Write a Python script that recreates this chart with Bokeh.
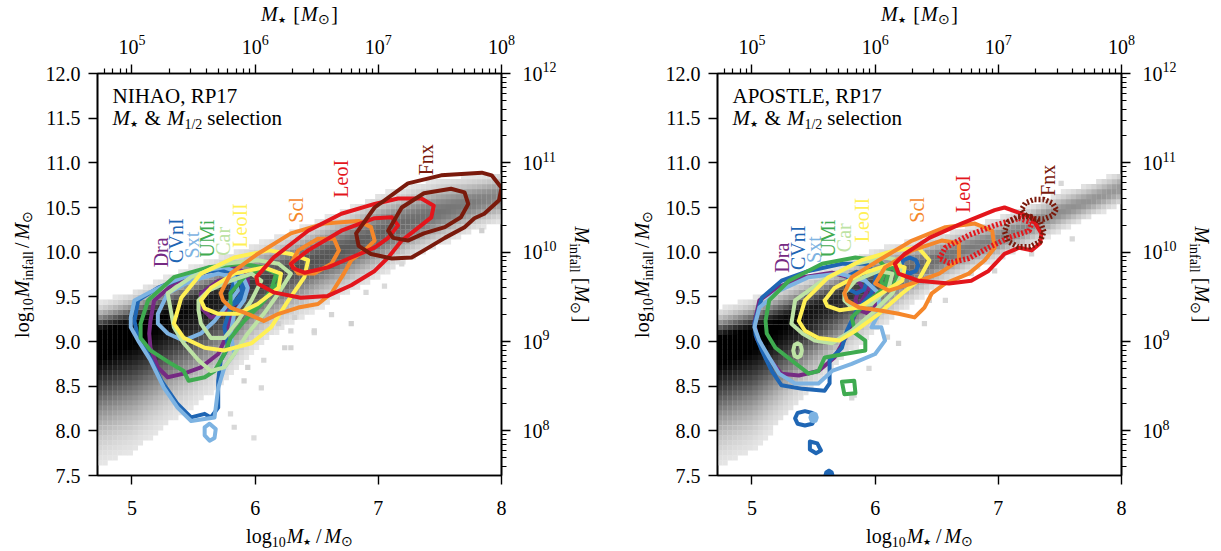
import numpy as np
from bokeh.plotting import figure
from bokeh.layouts import row, column
from bokeh.models import LinearAxis, FixedTicker, NumeralTickFormatter, Range1d
from bokeh.core.properties import value
from bokeh.embed import file_html
from bokeh.resources import INLINE

SERIF = "Liberation Serif"

# ---------------------------------------------------------------- axes
XR = (4.72, 8.0)
YR = (7.5, 12.0)
x_ticks = [5, 6, 7, 8]
x_tick_labels = {5: "5", 6: "6", 7: "7", 8: "8"}
y_ticks = [7.5, 8.0, 8.5, 9.0, 9.5, 10.0, 10.5, 11.0, 11.5, 12.0]
top_exponents = {5: "5", 6: "6", 7: "7", 8: "8"}
right_ticks = [8, 9, 10, 11, 12]
right_exponents = {8: "8", 9: "9", 10: "10", 11: "11", 12: "12"}

# ---------------------------------------------------------------- galaxies
galaxies = ["Dra", "CVnI", "Sxt", "UMi", "Car", "LeoII", "Scl", "LeoI", "Fnx"]
galaxy_colors = ["#762a83", "#1f66b4", "#7db3e2", "#3fab50", "#bde3a4",
                 "#fff054", "#f5872a", "#e3161c", "#7a1a0c"]

nihao_label_x = [5.236, 5.36, 5.49, 5.61, 5.74, 5.88, 6.33, 6.70, 7.39]
nihao_label_y = [9.83, 9.88, 9.93, 9.94, 9.96, 10.05, 10.33, 10.61, 10.86]
apostle_label_x = [5.24, 5.37, 5.50, 5.62, 5.75, 5.89, 6.34, 6.71, 7.40]
apostle_label_y = [9.77, 9.80, 9.88, 9.94, 10.00, 10.11, 10.33, 10.44, 10.63]

# ---------------------------------------------------------------- background density ridge
# log M* node, ridge centre, spread above, spread below, peak darkness
nihao_ridge_x = [4.72, 5.0, 5.25, 5.5, 5.75, 6.0, 6.25, 6.5, 6.75, 7.0, 7.25, 7.5, 7.75, 8.0]
nihao_ridge_mid = [9.05, 9.15, 9.26, 9.38, 9.51, 9.64, 9.78, 9.92, 10.05, 10.20, 10.33, 10.45, 10.55, 10.64]
nihao_ridge_up = [0.16, 0.17, 0.19, 0.20, 0.20, 0.20, 0.20, 0.20, 0.20, 0.21, 0.20, 0.18, 0.15, 0.13]
nihao_ridge_down = [0.60, 0.58, 0.52, 0.47, 0.42, 0.32, 0.28, 0.26, 0.24, 0.23, 0.20, 0.18, 0.16, 0.15]
nihao_ridge_ink = [1.1, 1.06, 1.0, 0.95, 0.88, 0.75, 0.70, 0.66, 0.63, 0.60, 0.56, 0.53, 0.50, 0.45]
nihao_speck_x = [6.78, 6.48, 6.29, 5.83, 5.99, 7.84, 7.19, 5.91, 6.07, 6.62,
                 6.19, 6.29, 6.24, 5.94, 6.05, 5.80, 6.48, 6.32, 6.90, 7.05]
nihao_speck_y = [9.20, 9.10, 8.93, 8.04, 7.92, 10.24, 9.87, 8.56, 8.79, 9.30,
                 9.20, 9.12, 8.93, 8.71, 8.48, 8.19, 9.12, 9.27, 9.55, 9.62]
nihao_speck_ink = [0.15, 0.12, 0.14, 0.12, 0.10, 0.15, 0.12, 0.14, 0.12, 0.13,
                   0.16, 0.12, 0.14, 0.15, 0.12, 0.11, 0.13, 0.15, 0.12, 0.11]

apostle_ridge_x = [4.72, 5.0, 5.25, 5.5, 5.75, 6.0, 6.25, 6.5, 6.75, 7.0, 7.25, 7.5, 7.75, 8.0]
apostle_ridge_mid = [8.98, 9.08, 9.21, 9.35, 9.50, 9.66, 9.80, 9.92, 10.04, 10.15, 10.30, 10.45, 10.58, 10.72]
apostle_ridge_up = [0.16, 0.17, 0.18, 0.18, 0.17, 0.17, 0.15, 0.13, 0.12, 0.12, 0.11, 0.11, 0.10, 0.10]
apostle_ridge_down = [0.58, 0.55, 0.46, 0.38, 0.30, 0.25, 0.20, 0.15, 0.13, 0.12, 0.12, 0.11, 0.10, 0.10]
apostle_ridge_ink = [1.1, 1.06, 1.0, 0.92, 0.82, 0.70, 0.60, 0.55, 0.50, 0.48, 0.45, 0.42, 0.40, 0.38]
apostle_speck_x = [6.97, 6.57, 6.19, 7.27, 5.83, 6.40, 5.95, 7.60, 5.81, 6.44, 6.78, 7.51, 6.10]
apostle_speck_y = [9.79, 9.46, 8.98, 9.98, 8.40, 9.20, 8.70, 10.15, 8.37, 9.46, 9.76, 10.77, 9.05]
apostle_speck_ink = [0.13, 0.12, 0.14, 0.12, 0.12, 0.13, 0.12, 0.12, 0.12, 0.14, 0.12, 0.12, 0.13]

# ---------------------------------------------------------------- NIHAO contours (log M*, log Minfall)
nihao_dra_outer = [(5.15, 9.23), (5.18, 9.46), (5.34, 9.65), (5.62, 9.79), (5.83, 9.83), (5.94, 9.76), (5.94, 9.57), (5.86, 9.38), (5.78, 9.20), (5.75, 9.01), (5.70, 8.86), (5.56, 8.71), (5.42, 8.64), (5.29, 8.60), (5.21, 8.71), (5.15, 8.93), (5.14, 9.09)]
nihao_dra_inner = [(5.56, 9.54), (5.70, 9.68), (5.86, 9.72), (5.91, 9.65), (5.86, 9.46), (5.75, 9.31), (5.64, 9.27), (5.56, 9.38)]
nihao_cvni_outer = [(5.02, 9.23), (5.05, 9.46), (5.21, 9.60), (5.42, 9.72), (5.64, 9.79), (5.80, 9.79), (5.89, 9.68), (5.89, 9.54), (5.80, 9.38), (5.75, 9.16), (5.78, 8.93), (5.72, 8.79), (5.70, 8.56), (5.70, 8.26), (5.64, 8.15), (5.59, 8.19), (5.48, 8.15), (5.37, 8.30), (5.24, 8.56), (5.13, 8.86), (5.05, 9.04)]
nihao_cvni_inner = [(5.80, 9.54), (5.83, 9.68), (5.89, 9.72), (5.91, 9.60), (5.89, 9.46), (5.83, 9.42)]
nihao_sxt_outer = [(4.99, 9.27), (5.02, 9.46), (5.13, 9.54), (5.34, 9.68), (5.56, 9.79), (5.75, 9.83), (5.89, 9.76), (5.94, 9.60), (5.91, 9.46), (5.83, 9.31), (5.80, 9.09), (5.83, 8.86), (5.75, 8.71), (5.70, 8.48), (5.67, 8.15), (5.48, 8.11), (5.37, 8.26), (5.26, 8.48), (5.15, 8.79), (5.05, 9.01), (4.99, 9.16)]
nihao_sxt_inner = [(5.21, 9.31), (5.29, 9.54), (5.48, 9.68), (5.70, 9.76), (5.83, 9.72), (5.86, 9.57), (5.78, 9.42), (5.67, 9.23), (5.56, 9.09), (5.42, 9.01), (5.29, 9.09), (5.21, 9.20)]
nihao_sxt_island = [(5.59, 8.04), (5.63, 8.08), (5.68, 8.02), (5.67, 7.92), (5.63, 7.89), (5.59, 7.95)]
nihao_umi_outer = [(5.07, 9.20), (5.13, 9.46), (5.34, 9.72), (5.62, 9.83), (5.89, 9.87), (6.07, 9.83), (6.19, 9.76), (6.19, 9.65), (6.05, 9.42), (5.91, 9.23), (5.80, 9.04), (5.75, 8.86), (5.67, 8.67), (5.59, 8.60), (5.46, 8.56), (5.42, 8.67), (5.32, 8.75), (5.15, 8.90), (5.07, 9.04)]
nihao_umi_inner = [(5.80, 9.54), (5.91, 9.72), (6.07, 9.83), (6.17, 9.76), (6.13, 9.57), (6.02, 9.38), (5.89, 9.31), (5.80, 9.38)]
nihao_car_outer = [(5.32, 9.31), (5.29, 9.54), (5.48, 9.72), (5.75, 9.87), (6.02, 9.91), (6.19, 9.87), (6.29, 9.76), (6.19, 9.54), (6.07, 9.31), (5.94, 9.09), (5.83, 8.86), (5.75, 8.71), (5.64, 8.67), (5.54, 8.79), (5.42, 8.98), (5.34, 9.16)]
nihao_car_inner = [(5.54, 9.46), (5.62, 9.57), (5.80, 9.68), (5.97, 9.76), (6.05, 9.68), (5.97, 9.46), (5.86, 9.23), (5.75, 9.04), (5.64, 9.04), (5.56, 9.20), (5.54, 9.35)]
nihao_leoii_outer = [(5.34, 9.20), (5.40, 9.49), (5.56, 9.76), (5.83, 9.94), (6.11, 10.02), (6.29, 9.98), (6.43, 9.91), (6.40, 9.72), (6.27, 9.46), (6.13, 9.16), (5.97, 8.98), (5.75, 8.90), (5.59, 8.93), (5.42, 9.04)]
nihao_leoii_inner = [(5.56, 9.46), (5.64, 9.60), (5.83, 9.76), (6.07, 9.83), (6.21, 9.76), (6.19, 9.60), (6.02, 9.42), (5.86, 9.31), (5.70, 9.31), (5.59, 9.37)]
nihao_scl_outer = [(5.72, 9.54), (5.80, 9.76), (6.02, 9.98), (6.29, 10.21), (6.56, 10.32), (6.84, 10.35), (6.94, 10.28), (6.97, 10.13), (6.89, 10.02), (6.78, 9.91), (6.72, 9.76), (6.62, 9.54), (6.51, 9.42), (6.35, 9.38), (6.19, 9.31), (6.07, 9.23), (5.94, 9.31), (5.80, 9.38), (5.74, 9.46)]
nihao_scl_inner = [(6.29, 9.87), (6.35, 10.02), (6.51, 10.15), (6.64, 10.15), (6.68, 10.02), (6.62, 9.87), (6.48, 9.76), (6.35, 9.76)]
nihao_leoi_outer = [(6.01, 9.72), (6.15, 9.94), (6.43, 10.24), (6.70, 10.43), (6.97, 10.54), (7.16, 10.60), (7.35, 10.60), (7.45, 10.52), (7.43, 10.39), (7.33, 10.28), (7.19, 10.13), (7.08, 9.94), (6.97, 9.79), (6.78, 9.63), (6.59, 9.51), (6.37, 9.49), (6.15, 9.55), (6.02, 9.65)]
nihao_leoi_inner = [(6.29, 9.87), (6.43, 10.02), (6.70, 10.24), (6.97, 10.38), (7.11, 10.39), (7.16, 10.30), (7.08, 10.16), (6.97, 10.05), (6.78, 9.94), (6.59, 9.83), (6.40, 9.77), (6.31, 9.82)]
nihao_fnx_outer = [(6.82, 10.21), (6.97, 10.50), (7.24, 10.77), (7.51, 10.86), (7.84, 10.89), (7.92, 10.86), (8.00, 10.72), (7.98, 10.58), (7.86, 10.43), (7.78, 10.38), (7.70, 10.28), (7.54, 10.16), (7.37, 10.02), (7.27, 9.94), (7.11, 9.93), (6.94, 9.98), (6.84, 10.07)]
nihao_fnx_inner = [(7.08, 10.24), (7.19, 10.50), (7.37, 10.66), (7.59, 10.71), (7.70, 10.67), (7.73, 10.54), (7.67, 10.39), (7.54, 10.28), (7.37, 10.21), (7.24, 10.13), (7.12, 10.16)]

# ---------------------------------------------------------------- APOSTLE contours
apostle_dra_outer = [(5.02, 9.21), (5.06, 9.46), (5.20, 9.60), (5.41, 9.72), (5.65, 9.77), (5.85, 9.70), (5.93, 9.55), (5.85, 9.35), (5.77, 9.07), (5.67, 8.82), (5.54, 8.67), (5.38, 8.62), (5.24, 8.64), (5.12, 8.84), (5.04, 9.03)]
apostle_dra_inner = [(6.02, 9.46), (5.99, 9.56), (5.93, 9.60), (5.86, 9.56), (5.84, 9.46), (5.86, 9.36), (5.93, 9.32), (5.99, 9.36)]
apostle_cvni_outer = [(5.02, 9.20), (5.08, 9.49), (5.24, 9.68), (5.46, 9.79), (5.73, 9.87), (5.93, 9.87), (6.01, 9.74), (5.97, 9.54), (5.85, 9.35), (5.77, 9.12), (5.73, 8.93), (5.63, 8.79), (5.63, 8.53), (5.59, 8.45), (5.41, 8.47), (5.24, 8.51), (5.16, 8.67), (5.08, 8.90), (5.03, 9.07)]
apostle_cvni_inner = [(5.93, 9.66), (5.91, 9.74), (5.85, 9.78), (5.79, 9.74), (5.77, 9.66), (5.79, 9.58), (5.85, 9.54), (5.91, 9.58)]
apostle_cvni_inner_b = [(6.35, 9.85), (6.33, 9.91), (6.28, 9.94), (6.23, 9.91), (6.21, 9.85), (6.23, 9.79), (6.28, 9.76), (6.33, 9.79)]
apostle_cvni_island_a = [(5.51, 8.14), (5.49, 8.20), (5.43, 8.22), (5.37, 8.20), (5.35, 8.14), (5.37, 8.08), (5.43, 8.06), (5.49, 8.08)]
apostle_cvni_island_b = [(5.47, 7.88), (5.53, 7.86), (5.56, 7.78), (5.52, 7.75), (5.47, 7.79)]
apostle_cvni_island_c = [(5.59, 7.49), (5.60, 7.54), (5.625, 7.56), (5.65, 7.54), (5.66, 7.49)]
apostle_sxt_outer = [(5.02, 9.16), (5.06, 9.38), (5.22, 9.57), (5.46, 9.72), (5.71, 9.76), (5.92, 9.68), (6.03, 9.54), (6.03, 9.31), (5.97, 9.16), (6.05, 9.16), (6.08, 9.01), (6.00, 8.86), (5.81, 8.75), (5.65, 8.67), (5.54, 8.53), (5.35, 8.53), (5.22, 8.64), (5.14, 8.82), (5.06, 9.01)]
apostle_sxt_island = [(5.53, 8.15), (5.52, 8.19), (5.50, 8.20), (5.48, 8.19), (5.47, 8.15), (5.48, 8.11), (5.50, 8.10), (5.52, 8.11)]
apostle_umi_outer = [(5.11, 9.23), (5.14, 9.46), (5.30, 9.68), (5.57, 9.87), (5.84, 9.94), (6.03, 9.91), (6.11, 9.79), (6.08, 9.60), (5.95, 9.46), (5.81, 9.27), (5.84, 9.09), (5.92, 9.01), (5.92, 8.90), (5.75, 8.86), (5.59, 8.82), (5.54, 8.67), (5.46, 8.64), (5.32, 8.79), (5.19, 8.93), (5.12, 9.09)]
apostle_umi_inner = [(6.05, 9.68), (6.09, 9.82), (6.15, 9.83), (6.18, 9.72), (6.14, 9.60), (6.07, 9.59)]
apostle_umi_island = [(5.73, 8.55), (5.83, 8.56), (5.84, 8.42), (5.75, 8.41)]
apostle_car_outer = [(5.32, 9.20), (5.35, 9.46), (5.57, 9.68), (5.84, 9.87), (6.08, 9.94), (6.19, 9.91), (6.22, 9.76), (6.14, 9.54), (5.97, 9.31), (5.81, 9.12), (5.65, 8.98), (5.51, 9.01), (5.41, 9.09)]
apostle_car_inner = [(5.75, 9.54), (5.84, 9.68), (6.03, 9.79), (6.14, 9.76), (6.11, 9.60), (5.97, 9.42), (5.81, 9.38), (5.75, 9.46)]
apostle_car_island = [(5.405, 8.90), (5.395, 8.96), (5.37, 8.98), (5.345, 8.96), (5.335, 8.90), (5.345, 8.84), (5.37, 8.82), (5.395, 8.84)]
apostle_leoii_outer = [(5.38, 9.23), (5.43, 9.46), (5.62, 9.72), (5.89, 9.91), (6.16, 10.02), (6.35, 10.05), (6.44, 9.91), (6.35, 9.68), (6.22, 9.54), (6.03, 9.31), (5.84, 9.12), (5.71, 9.01), (5.54, 9.04), (5.43, 9.12)]
apostle_leoii_inner = [(5.59, 9.46), (5.67, 9.60), (5.89, 9.76), (6.14, 9.87), (6.24, 9.83), (6.22, 9.68), (6.05, 9.54), (5.87, 9.38), (5.71, 9.35), (5.61, 9.40)]
apostle_scl_outer = [(5.75, 9.54), (5.81, 9.72), (6.03, 9.91), (6.30, 10.13), (6.57, 10.28), (6.81, 10.32), (6.95, 10.24), (6.97, 10.05), (6.89, 9.91), (6.76, 9.76), (6.57, 9.65), (6.46, 9.54), (6.40, 9.38), (6.32, 9.27), (6.19, 9.31), (6.03, 9.35), (5.87, 9.38), (5.77, 9.46)]
apostle_scl_inner = [(6.00, 9.65), (6.08, 9.83), (6.30, 10.02), (6.54, 10.13), (6.68, 10.10), (6.68, 9.91), (6.52, 9.76), (6.30, 9.65), (6.11, 9.57)]
apostle_leoi_outer = [(6.19, 9.76), (6.16, 9.87), (6.24, 9.98), (6.44, 10.16), (6.70, 10.32), (6.97, 10.47), (7.05, 10.50), (7.17, 10.44), (7.27, 10.39), (7.35, 10.21), (7.34, 10.10), (7.27, 10.02), (7.17, 10.05), (7.05, 9.98), (6.92, 9.79), (6.78, 9.68), (6.60, 9.65), (6.35, 9.68)]
apostle_leoi_inner = [(6.52, 9.93), (6.57, 10.05), (6.76, 10.19), (6.97, 10.30), (7.17, 10.38), (7.27, 10.33), (7.25, 10.24), (7.08, 10.16), (6.92, 10.05), (6.76, 9.93), (6.60, 9.88)]
apostle_fnx_outer = [(7.37, 10.23), (7.34, 10.34), (7.26, 10.40), (7.16, 10.40), (7.08, 10.34), (7.05, 10.23), (7.08, 10.12), (7.16, 10.06), (7.26, 10.06), (7.34, 10.12)]
apostle_fnx_inner = [(7.47, 10.48), (7.44, 10.55), (7.37, 10.59), (7.29, 10.59), (7.22, 10.55), (7.19, 10.48), (7.22, 10.41), (7.29, 10.37), (7.37, 10.37), (7.44, 10.41)]

# (galaxy, outline, dashed, filled)
nihao_contours = [
    ("Dra", nihao_dra_outer, False, False), ("Dra", nihao_dra_inner, False, False),
    ("CVnI", nihao_cvni_outer, False, False), ("CVnI", nihao_cvni_inner, False, False),
    ("Sxt", nihao_sxt_outer, False, False), ("Sxt", nihao_sxt_inner, False, False),
    ("Sxt", nihao_sxt_island, False, False),
    ("UMi", nihao_umi_outer, False, False), ("UMi", nihao_umi_inner, False, False),
    ("Car", nihao_car_outer, False, False), ("Car", nihao_car_inner, False, False),
    ("LeoII", nihao_leoii_outer, False, False), ("LeoII", nihao_leoii_inner, False, False),
    ("Scl", nihao_scl_outer, False, False), ("Scl", nihao_scl_inner, False, False),
    ("LeoI", nihao_leoi_outer, False, False), ("LeoI", nihao_leoi_inner, False, False),
    ("Fnx", nihao_fnx_outer, False, False), ("Fnx", nihao_fnx_inner, False, False),
]
apostle_contours = [
    ("Dra", apostle_dra_outer, False, False), ("Dra", apostle_dra_inner, False, False),
    ("CVnI", apostle_cvni_outer, False, False), ("CVnI", apostle_cvni_inner, False, False),
    ("CVnI", apostle_cvni_inner_b, False, False), ("CVnI", apostle_cvni_island_a, False, False),
    ("CVnI", apostle_cvni_island_b, False, False), ("CVnI", apostle_cvni_island_c, False, True),
    ("Sxt", apostle_sxt_outer, False, False), ("Sxt", apostle_sxt_island, False, True),
    ("UMi", apostle_umi_outer, False, False), ("UMi", apostle_umi_inner, False, False),
    ("UMi", apostle_umi_island, False, False),
    ("Car", apostle_car_outer, False, False), ("Car", apostle_car_inner, False, False),
    ("Car", apostle_car_island, False, False),
    ("LeoII", apostle_leoii_outer, False, False), ("LeoII", apostle_leoii_inner, False, False),
    ("Scl", apostle_scl_outer, False, False), ("Scl", apostle_scl_inner, False, False),
    ("LeoI", apostle_leoi_outer, False, False), ("LeoI", apostle_leoi_inner, True, False),
    ("Fnx", apostle_fnx_outer, True, False), ("Fnx", apostle_fnx_inner, True, False),
]

# ---------------------------------------------------------------- layout (pixels)
TOP_H, BOT_H = 57, 60            # strips above / below each panel
MID_H = 551 - TOP_H - BOT_H      # height of the row holding the panel
FRAME_W, FRAME_H = 404, 402
PAD = 16                         # room for the tick marks around the frame
MAIN_W = 57 + FRAME_W + PAD
PX_X = FRAME_W / (XR[1] - XR[0])
PX_Y = FRAME_H / (YR[1] - YR[0])
BIN_X = (XR[1] - XR[0]) / 80
BIN_Y = (YR[1] - YR[0]) / 80

# advance widths (per 1000 em)
ROMAN = {' ': 250, '&': 778, ',': 250, '/': 278, '[': 333, ']': 333, 'A': 722, 'E': 611,
         'H': 722, 'I': 333, 'L': 611, 'N': 722, 'O': 722, 'P': 556, 'R': 667, 'S': 556,
         'T': 611, 'a': 444, 'c': 444, 'e': 444, 'f': 333, 'g': 500, 'i': 278, 'l': 278,
         'n': 500, 'o': 500, 's': 389, 't': 278, '★': 840, '⊙': 840}
ITALIC = {'M': 833}


def text_width(txt, size, italic):
    table = ITALIC if italic else ROMAN
    return sum(table.get(ch, ROMAN.get(ch, 500)) for ch in txt) * size / 1000.0


def rich(p, x0, y0, pieces, kx, ky, angle=0.0, centred=False, ref=20):
    """Mixed-style text centred on a line through (x0, y0); piece shifts are
    pixels below the main baseline, kx / ky turn one pixel right / down into
    the figure's units."""
    widths = [text_width(t, s, it) + pad for (t, s, it, sh, pad) in pieces]
    pos = -sum(widths) / 2.0 if centred else 0.0
    for (t, s, it, sh, pad), w in zip(pieces, widths):
        drop = sh + 0.33 * (ref - s)
        if angle == 0:
            dx, dy = pos, drop
        elif angle > 0:
            dx, dy = drop, -pos
        else:
            dx, dy = -drop, pos
        p.text(x=[x0 + dx * kx], y=[y0 + dy * ky], text=[t], angle=angle,
               text_font=value(SERIF), text_font_size=f"{s}px",
               text_font_style="italic" if it else "normal",
               text_align="left", text_baseline="middle", text_color="black")
        pos += w


def strip(width, height, x_range, y_range):
    s = figure(width=width, height=height, x_range=x_range, y_range=y_range,
               x_axis_location=None, y_axis_location=None, toolbar_location=None,
               output_backend="svg", min_border=0, title=None)
    s.xgrid.visible = False
    s.ygrid.visible = False
    s.outline_line_color = None
    s.background_fill_color = "white"
    s.border_fill_color = "white"
    return s


def density_cells(rx, rmid, rup, rdown, rink, sx, sy, sink):
    cx = XR[0] + BIN_X * (np.arange(80) + 0.5)
    cy = YR[0] + BIN_Y * (np.arange(80) + 0.5)
    gx, gy = np.meshgrid(cx, cy)
    mid = np.interp(gx, rx, rmid)
    spread = np.where(gy > mid, np.interp(gx, rx, rup), np.interp(gx, rx, rdown))
    ink = np.interp(gx, rx, rink) * np.exp(-0.5 * ((gy - mid) / spread) ** 2)
    keep = ink > 0.06
    xs = list(gx[keep]) + list(sx)
    ys = list(gy[keep]) + list(sy)
    ts = list(np.minimum(ink[keep], 1.0)) + list(sink)
    cols = ["#%02x%02x%02x" % ((int(round(245 * (1 - t))),) * 3) for t in ts]
    return xs, ys, cols


def style_axis(ax, minor, labels=True, standoff=8):
    ax.axis_line_width = 1.6
    ax.axis_line_color = "black"
    ax.major_tick_in = 0
    ax.major_tick_out = 9
    ax.major_tick_line_width = 1.4
    ax.major_tick_line_color = "black"
    ax.minor_tick_in = 0
    ax.minor_tick_out = 5
    ax.minor_tick_line_width = 1.2
    ax.minor_tick_line_color = "black" if minor else None
    ax.major_label_text_font = SERIF
    ax.major_label_text_font_size = "20px" if labels else "0px"
    ax.major_label_text_color = "black"
    ax.major_label_standoff = standoff if labels else 0


def main_panel(title, ridge, contours, label_x, label_y):
    p = figure(width=MAIN_W, height=MID_H, x_range=Range1d(*XR), y_range=Range1d(*YR),
               output_backend="svg", toolbar_location=None,
               min_border_left=57, min_border_right=PAD, min_border_top=PAD,
               min_border_bottom=MID_H - PAD - FRAME_H)
    p.xgrid.visible = False
    p.ygrid.visible = False
    p.outline_line_color = "black"
    p.outline_line_width = 1.6
    p.background_fill_color = "white"
    p.border_fill_color = "white"

    bottom = p.xaxis[0]
    bottom.ticker = FixedTicker(ticks=x_ticks)
    bottom.major_label_overrides = {t: "" for t in x_ticks}
    style_axis(bottom, False, labels=False)
    left = p.yaxis[0]
    left.ticker = FixedTicker(ticks=y_ticks)
    left.formatter = NumeralTickFormatter(format="0.0")
    style_axis(left, False)

    top_minor = [np.log10(k * 10.0 ** n) for n in range(4, 8) for k in range(2, 10)]
    top_minor = [v for v in top_minor if XR[0] <= v <= XR[1]]
    top = LinearAxis(ticker=FixedTicker(ticks=x_ticks, minor_ticks=top_minor),
                     major_label_overrides={t: "" for t in x_ticks})
    style_axis(top, True, labels=False)
    p.add_layout(top, "above")

    right_minor = [np.log10(k * 10.0 ** n) for n in range(7, 12) for k in range(2, 10)]
    right_minor = [v for v in right_minor if YR[0] <= v <= YR[1]]
    right = LinearAxis(ticker=FixedTicker(ticks=right_ticks, minor_ticks=right_minor),
                       major_label_overrides={t: "" for t in right_ticks})
    style_axis(right, True, labels=False)
    p.add_layout(right, "right")

    # background 2D histogram
    xs, ys, cols = density_cells(*ridge)
    p.rect(x=xs, y=ys, width=BIN_X * 1.04, height=BIN_Y * 1.04,
           fill_color=cols, line_color=None)

    # contours
    cmap = dict(zip(galaxies, galaxy_colors))
    for name, pts, dashed, filled in contours:
        cx = [a for a, b in pts] + [pts[0][0]]
        cy = [b for a, b in pts] + [pts[0][1]]
        if filled:
            p.patch(cx, cy, fill_color=cmap[name], line_color=cmap[name], line_width=3)
        elif dashed:
            p.line(cx, cy, line_color=cmap[name], line_width=5.5, line_dash="2 2",
                   line_cap="butt", line_join="round")
        else:
            p.line(cx, cy, line_color=cmap[name], line_width=4, line_join="round",
                   line_cap="round")

    # galaxy names
    p.text(x=label_x, y=label_y, text=galaxies, angle=np.pi / 2,
           text_color=galaxy_colors, text_font=value(SERIF), text_font_size="20px",
           text_align="left", text_baseline="middle")

    # panel caption, placed from the frame's top-left corner
    kx, ky = 1.0 / PX_X, -1.0 / PX_Y
    x0 = XR[0] + 15 * kx
    rich(p, x0, YR[1] + 22 * ky, [(title, 21, False, 0, 0)], kx, ky, ref=21)
    rich(p, x0, YR[1] + 44 * ky,
         [("M", 21, True, 0, 0), ("★", 9, False, 3, 7), ("&", 21, False, 0, 6),
          ("M", 21, True, 0, 0), ("1/2", 14, False, 5, 5), ("selection", 21, False, 0, 0)],
         kx, ky, ref=21)
    return p


def block(title, ridge, contours, label_x, label_y, width, left_w):
    right_w = width - left_w - MAIN_W
    frame_left = left_w + 57
    xr = (XR[0] - frame_left / PX_X, XR[0] + (width - frame_left) / PX_X)
    xmid = 0.5 * (XR[0] + XR[1])
    kx = 1.0 / PX_X

    # strip above: axis title and log-scaled tick labels
    top = strip(width, TOP_H, Range1d(*xr), Range1d(TOP_H, 0))
    rich(top, xmid, 13,
         [("M", 20, True, 0, 0), ("★", 9, False, 3, 8), ("[", 20, False, 0, 1),
          ("M", 20, True, 0, 0), ("⊙", 14, False, 4, 2), ("]", 20, False, 0, 0)],
         kx, 1.0, centred=True)
    for t in x_ticks:
        rich(top, t, 46, [("10", 20, False, 0, 0), (top_exponents[t], 14, False, -8, 0)],
             kx, 1.0, centred=True)

    # strip below: tick labels and axis title
    bot = strip(width, BOT_H, Range1d(*xr), Range1d(BOT_H, 0))
    for t in x_ticks:
        rich(bot, t, 16, [(x_tick_labels[t], 20, False, 0, 0)], kx, 1.0, centred=True)
    rich(bot, xmid, 44,
         [("log", 20, False, 0, 0), ("10", 14, False, 5, 1), ("M", 20, True, 0, 0),
          ("★", 9, False, 3, 5), ("/", 20, False, 0, 3), ("M", 20, True, 0, 0),
          ("⊙", 14, False, 4, 0)], kx, 1.0, centred=True)

    # strip on the left: axis title
    cy_px = PAD + FRAME_H / 2.0
    lft = strip(left_w, MID_H, Range1d(0, left_w), Range1d(MID_H, 0))
    rich(lft, left_w - 19, cy_px,
         [("log", 20, False, 0, 0), ("10", 14, False, 5, 1), ("M", 20, True, 0, 0),
          ("infall", 14, False, 5, 3), ("/", 20, False, 0, 3), ("M", 20, True, 0, 0),
          ("⊙", 14, False, 4, 0)], 1.0, 1.0, angle=np.pi / 2, centred=True)

    # strip on the right: log-scaled tick labels and axis title
    yr = (YR[1] - (MID_H - PAD) / PX_Y, YR[1] + PAD / PX_Y)
    rgt = strip(right_w, MID_H, Range1d(0, right_w), Range1d(*yr))
    for t in right_ticks:
        rich(rgt, 5, t, [("10", 20, False, 0, 0), (right_exponents[t], 14, False, -8, 0)],
             1.0, -1.0 / PX_Y)
    rich(rgt, 64, 0.5 * (YR[0] + YR[1]),
         [("M", 20, True, 0, 0), ("infall", 14, False, 5, 5), ("[", 20, False, 0, 1),
          ("M", 20, True, 0, 0), ("⊙", 14, False, 4, 2), ("]", 20, False, 0, 0)],
         1.0, -1.0 / PX_Y, angle=-np.pi / 2, centred=True)

    mainp = main_panel(title, ridge, contours, label_x, label_y)
    # the panel sits in its own column so that the side strips keep their full height
    return column(top, row(lft, column(mainp), rgt), bot)


nihao_ridge = (nihao_ridge_x, nihao_ridge_mid, nihao_ridge_up, nihao_ridge_down,
               nihao_ridge_ink, nihao_speck_x, nihao_speck_y, nihao_speck_ink)
apostle_ridge = (apostle_ridge_x, apostle_ridge_mid, apostle_ridge_up, apostle_ridge_down,
                 apostle_ridge_ink, apostle_speck_x, apostle_speck_y, apostle_speck_ink)

left_block = block("NIHAO, RP17", nihao_ridge, nihao_contours,
                   nihao_label_x, nihao_label_y, 610, 40)
right_block = block("APOSTLE, RP17", apostle_ridge, apostle_contours,
                    apostle_label_x, apostle_label_y, 611, 50)

layout = row(left_block, right_block)
open("out.html", "w").write(file_html(layout, INLINE, "Minfall vs Mstar"))
